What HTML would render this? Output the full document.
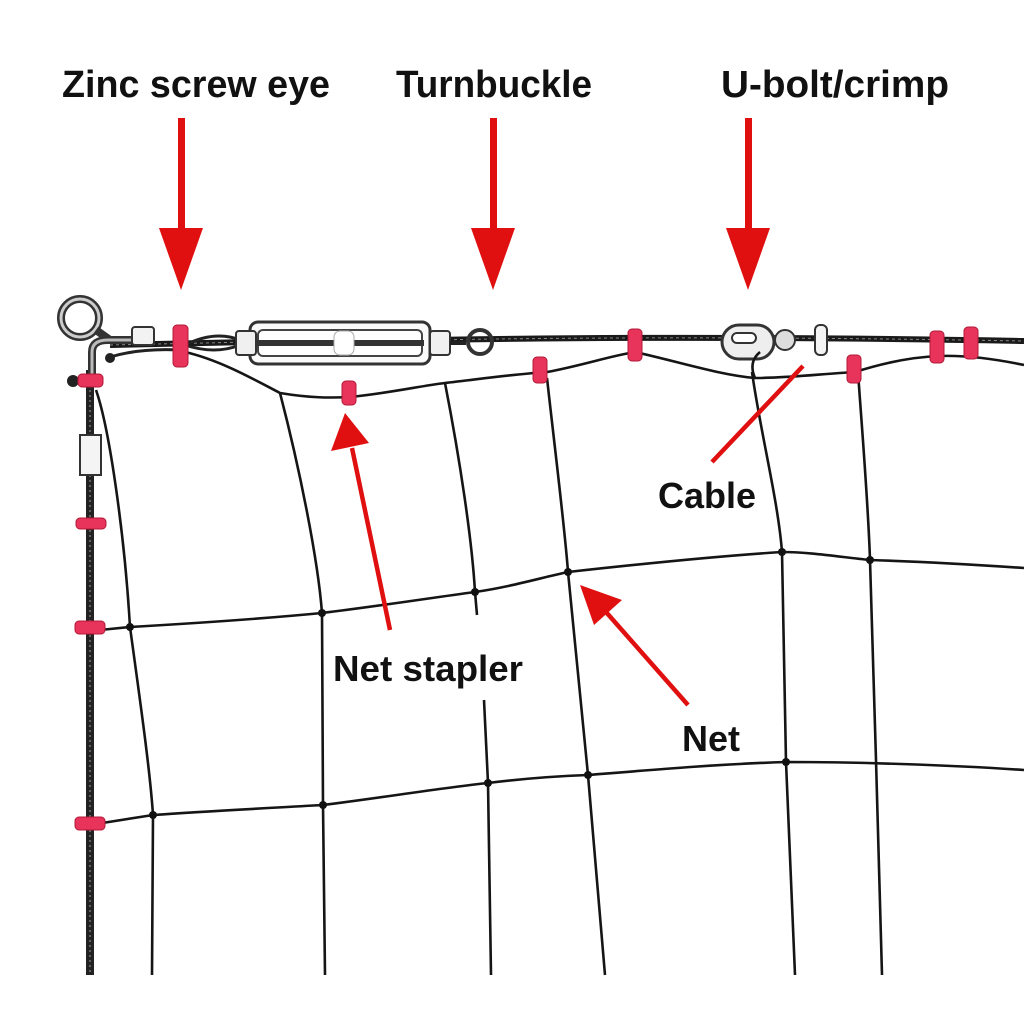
<!DOCTYPE html>
<html><head><meta charset="utf-8"><style>
html,body{margin:0;padding:0;background:#fff;}
svg{display:block;}
text{font-family:"Liberation Sans",sans-serif;fill:#111;font-weight:bold;}
</style></head><body>
<svg width="1024" height="1024" viewBox="0 0 1024 1024" xmlns="http://www.w3.org/2000/svg">
<rect width="1024" height="1024" fill="#fff"/>
<text x="62" y="97" font-size="38" textLength="268" lengthAdjust="spacingAndGlyphs">Zinc screw eye</text>
<text x="396" y="97" font-size="38" textLength="196" lengthAdjust="spacingAndGlyphs">Turnbuckle</text>
<text x="721" y="97" font-size="38" textLength="228" lengthAdjust="spacingAndGlyphs">U-bolt/crimp</text>
<text x="658" y="508" font-size="36" textLength="98" lengthAdjust="spacingAndGlyphs">Cable</text>
<text x="333" y="681" font-size="36" textLength="190" lengthAdjust="spacingAndGlyphs">Net stapler</text>
<text x="682" y="751" font-size="36" textLength="58" lengthAdjust="spacingAndGlyphs">Net</text>

<g fill="#e01010" stroke="none">
<rect x="178" y="118" width="7" height="115"/><polygon points="159,228 203,228 181,290"/>
<rect x="490" y="118" width="7" height="115"/><polygon points="471,228 515,228 493,290"/>
<rect x="745" y="118" width="7" height="115"/><polygon points="726,228 770,228 748,290"/>
</g>

<line x1="90" y1="370" x2="90" y2="975" stroke="#222" stroke-width="8"/>
<line x1="90" y1="370" x2="90" y2="975" stroke="#777" stroke-width="1.5" stroke-dasharray="2 3"/>
<rect x="80" y="435" width="21" height="40" fill="#f4f4f4" stroke="#333" stroke-width="2"/>

<path d="M110,345 L250,342 M430,340 C600,337 800,337 1024,341" stroke="#1a1a1a" stroke-width="6" fill="none"/>
<path d="M110,345 L250,342 M430,340 C600,337 800,337 1024,341" stroke="#888" stroke-width="1" stroke-dasharray="3 3" fill="none"/>

<circle cx="80" cy="318" r="19" fill="none" stroke="#333" stroke-width="8"/>
<circle cx="80" cy="318" r="19" fill="none" stroke="#ccc" stroke-width="3"/>
<path d="M96,330 L110,340 M92,375 L92,352 Q92,340 108,340 L140,340" stroke="#333" stroke-width="8" fill="none"/>
<path d="M92,375 L92,352 Q92,340 108,340 L140,340" stroke="#bbb" stroke-width="3" fill="none"/>
<rect x="132" y="327" width="22" height="18" rx="3" fill="#f2f2f2" stroke="#333" stroke-width="2"/>
<path d="M110,357 Q140,348 180,350" stroke="#222" stroke-width="3" fill="none"/>
<circle cx="110" cy="358" r="5" fill="#222"/>
<circle cx="73" cy="381" r="6" fill="#222"/>

<path d="M185,345 Q215,330 240,340 M185,345 Q215,355 240,345" stroke="#222" stroke-width="3" fill="none"/>
<rect x="250" y="322" width="180" height="42" rx="8" fill="#fafafa" stroke="#333" stroke-width="3"/>
<rect x="258" y="330" width="164" height="26" rx="5" fill="#fff" stroke="#444" stroke-width="2"/>
<line x1="256" y1="343" x2="424" y2="343" stroke="#333" stroke-width="6"/>
<rect x="334" y="331" width="20" height="24" rx="6" fill="#fff" stroke="#aaa" stroke-width="1"/>
<rect x="236" y="331" width="20" height="24" rx="3" fill="#f0f0f0" stroke="#333" stroke-width="2"/>
<rect x="430" y="331" width="20" height="24" rx="3" fill="#f0f0f0" stroke="#333" stroke-width="2"/>
<line x1="450" y1="343" x2="466" y2="343" stroke="#222" stroke-width="4"/>
<circle cx="480" cy="342" r="12" fill="none" stroke="#333" stroke-width="4"/>

<rect x="722" y="325" width="52" height="34" rx="17" fill="#eee" stroke="#333" stroke-width="3"/>
<rect x="732" y="333" width="24" height="10" rx="5" fill="#fff" stroke="#333" stroke-width="2"/>
<circle cx="785" cy="340" r="10" fill="#ddd" stroke="#333" stroke-width="2"/>
<rect x="815" y="325" width="12" height="30" rx="5" fill="#f4f4f4" stroke="#333" stroke-width="2"/>

<g stroke="#151515" stroke-width="2.6" fill="none">
<path d="M185,352 C220,360 255,380 280,393 C310,398 330,398 350,397 C390,393 420,386 445,383 C480,379 515,374 547,372 C580,366 610,356 635,352 C680,362 720,375 755,378 C790,378 820,374 855,372 C880,364 910,357 940,356 C970,355 1000,360 1024,365"/>
<path d="M96,390 C110,430 125,540 130,627 C140,700 150,770 153,815 L152,975"/>
<path d="M280,393 C300,470 318,560 322,613 L323,805 L325,975"/>
<path d="M445,383 C460,460 472,540 475,592 L477,615 M484,700 L488,783 L491,975"/>
<path d="M547,378 C555,450 565,530 568,572 L588,775 L605,975"/>
<path d="M752,372 C760,430 778,500 782,552 L786,762 L795,975"/>
<path d="M858,372 C862,430 868,500 870,560 L876,760 L882,975"/>
<path d="M100,630 L130,627 C200,623 270,618 322,613 C380,606 430,598 475,592 C510,587 540,578 568,572 C640,564 720,556 782,552 C810,552 840,557 870,560 C930,562 980,565 1024,568"/>
<path d="M96,824 L153,815 C210,811 270,808 323,805 C380,798 440,788 488,783 C520,779 560,776 588,775 C650,770 720,764 786,762 C860,762 950,765 1024,770"/>
<path d="M755,378 Q748,362 760,352"/>
</g>
<g fill="#111">
<circle cx="130" cy="627" r="4"/><circle cx="322" cy="613" r="4"/><circle cx="475" cy="592" r="4"/><circle cx="568" cy="572" r="4"/><circle cx="782" cy="552" r="4"/><circle cx="870" cy="560" r="4"/>
<circle cx="153" cy="815" r="4"/><circle cx="323" cy="805" r="4"/><circle cx="488" cy="783" r="4"/><circle cx="588" cy="775" r="4"/><circle cx="786" cy="762" r="4"/>
</g>

<g fill="#e8345a" stroke="#b01838" stroke-width="1">
<rect x="173" y="325" width="15" height="42" rx="4"/>
<rect x="342" y="381" width="14" height="24" rx="4"/>
<rect x="533" y="357" width="14" height="26" rx="4"/>
<rect x="628" y="329" width="14" height="32" rx="4"/>
<rect x="847" y="355" width="14" height="28" rx="4"/>
<rect x="930" y="331" width="14" height="32" rx="4"/>
<rect x="964" y="327" width="14" height="32" rx="4"/>
<rect x="78" y="374" width="25" height="13" rx="4"/>
<rect x="76" y="518" width="30" height="11" rx="4"/>
<rect x="75" y="621" width="30" height="13" rx="4"/>
<rect x="75" y="817" width="30" height="13" rx="4"/>
</g>

<g stroke="#e01010" stroke-width="4.5" fill="none">
<line x1="390" y1="630" x2="352" y2="448"/>
<line x1="688" y1="705" x2="606" y2="612"/>
<line x1="803" y1="366" x2="712" y2="462"/>
</g>
<g fill="#e01010">
<polygon points="345,413 331,451 369,443"/>
<polygon points="580,585 594,625 622,600"/>
</g>
</svg>
</body></html>
